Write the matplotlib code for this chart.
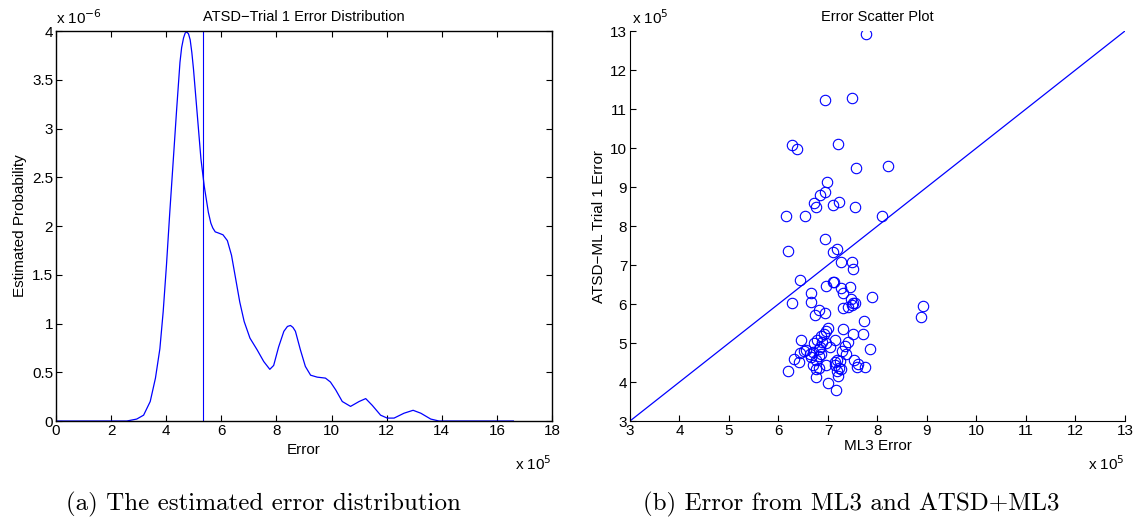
import matplotlib
matplotlib.use("Agg")
import matplotlib.pyplot as plt

plt.rcParams['font.family'] = ['Liberation Sans', 'DejaVu Sans']
plt.rcParams['font.size'] = 11

# density curve (x in 1e5, y in 1e-6)
dens_x = [0, 2.57, 2.93, 3.18, 3.42, 3.61, 3.77, 3.89, 4.01, 4.13, 4.26, 4.38,
          4.50, 4.56, 4.63, 4.69, 4.75, 4.81, 4.87, 4.93, 4.99, 5.14, 5.26,
          5.38, 5.53, 5.62, 5.69, 5.78, 5.88, 6.06, 6.22, 6.37, 6.52, 6.67,
          6.83, 7.04, 7.30, 7.54, 7.76, 7.90, 8.08, 8.27, 8.40, 8.51, 8.60,
          8.69, 8.87, 9.05, 9.24, 9.48, 9.78, 9.96, 10.15, 10.39, 10.69,
          11.00, 11.24, 11.48, 11.78, 12.02, 12.27, 12.63, 12.96, 13.24,
          13.60, 13.90, 16.6]
dens_y = [0, 0, 0.02, 0.06, 0.20, 0.44, 0.74, 1.12, 1.60, 2.14, 2.69, 3.20,
          3.68, 3.83, 3.93, 3.98, 3.99, 3.97, 3.91, 3.78, 3.61, 3.10, 2.69,
          2.41, 2.14, 2.03, 1.98, 1.94, 1.93, 1.91, 1.85, 1.70, 1.46, 1.22,
          1.02, 0.85, 0.73, 0.61, 0.53, 0.57, 0.76, 0.92, 0.97, 0.98, 0.96,
          0.92, 0.73, 0.56, 0.47, 0.45, 0.44, 0.40, 0.32, 0.20, 0.15,
          0.20, 0.23, 0.16, 0.06, 0.03, 0.03, 0.08, 0.11, 0.08,
          0.02, 0, 0]
mean_err = 5.33

# scatter (x 1e5)
ml3_err = [7.77, 6.94, 7.49, 6.27, 6.38, 7.20, 7.57, 8.22, 6.98, 6.94, 6.83,
           6.72, 6.75, 7.10, 7.23, 7.54, 6.16, 6.53, 8.10, 6.94, 6.19, 7.11,
           7.18, 7.27, 7.48, 7.51, 6.44, 7.10, 7.12, 6.96, 7.27, 7.44, 6.66,
           7.30, 7.46, 7.89, 6.27, 6.66, 7.50, 7.54, 7.49, 7.30, 7.41, 6.82,
           6.95, 6.74, 8.91, 8.87, 7.72, 7.01, 6.97, 7.31, 7.51, 7.71, 6.91,
           6.85, 6.45, 6.78, 7.14, 6.72, 6.88, 6.96, 7.40, 7.35, 6.84, 7.05,
           6.82, 6.55, 6.51, 7.85, 7.29, 6.69, 6.43, 6.63, 7.37, 6.85, 6.81,
           6.66, 6.32, 6.76, 7.18, 7.52, 6.42, 7.14, 7.24, 7.60, 6.70, 6.96,
           7.15, 7.58, 7.74, 6.81, 6.75, 7.22, 7.27, 6.19, 7.18, 6.75, 7.20,
           7.00, 7.16]
atsd_err = [12.93, 11.23, 11.28, 10.09, 9.97, 10.10, 9.49, 9.55, 9.12, 8.87,
            8.79, 8.60, 8.49, 8.54, 8.62, 8.48, 8.25, 8.25, 8.25, 7.67, 7.35,
            7.34, 7.41, 7.08, 7.07, 6.89, 6.62, 6.57, 6.56, 6.45, 6.42, 6.44,
            6.27, 6.27, 6.14, 6.19, 6.03, 6.05, 6.03, 6.03, 5.98, 5.89, 5.92,
            5.85, 5.78, 5.71, 5.95, 5.66, 5.56, 5.38, 5.32, 5.35, 5.23, 5.24,
            5.24, 5.18, 5.09, 5.07, 5.07, 5.00, 5.03, 5.00, 5.03, 4.92, 4.91,
            4.90, 4.85, 4.83, 4.79, 4.84, 4.79, 4.77, 4.74, 4.73, 4.73, 4.71,
            4.66, 4.64, 4.60, 4.57, 4.57, 4.57, 4.51, 4.52, 4.54, 4.47, 4.44,
            4.44, 4.44, 4.38, 4.38, 4.36, 4.33, 4.36, 4.33, 4.27, 4.28, 4.12,
            4.15, 3.97, 3.79]

blue = (0, 0, 1)

fig = plt.figure(figsize=(11.4, 5.23), dpi=100)
ax1 = fig.add_axes([0.0491, 0.195, 0.4351, 0.7457])
ax2 = fig.add_axes([0.5526, 0.195, 0.4342, 0.7457])

# (a) distribution
ax1.plot(dens_x, dens_y, color=blue, lw=0.9)
ax1.plot([mean_err, mean_err], [0, 4], color=blue, lw=0.8)
ax1.set_xlim(0, 18)
ax1.set_ylim(0, 4)
ax1.set_xticks(range(0, 19, 2))
ax1.set_yticks([0, 0.5, 1, 1.5, 2, 2.5, 3, 3.5, 4])
ax1.set_yticklabels(['0', '0.5', '1', '1.5', '2', '2.5', '3', '3.5', '4'])
ax1.tick_params(direction='in', top=True, right=True, length=4, width=0.8, pad=2)
for s in ax1.spines.values():
    s.set_linewidth(1.0)
ax1.set_title('ATSD\u2212Trial 1 Error Distribution', fontsize=10.5, pad=7)
ax1.set_xlabel('Error', labelpad=4)
ax1.set_ylabel('Estimated Probability', labelpad=4)
ax1.text(0, 1.01, 'x 10$^{-6}$', transform=ax1.transAxes, ha='left', va='bottom')
ax1.text(1, -0.085, 'x 10$^{5}$', transform=ax1.transAxes, ha='right', va='top')

# (b) scatter
ax2.plot([3, 13], [3, 13], color=blue, lw=0.9)
ax2.plot(ml3_err, atsd_err, 'o', mfc='none', mec=blue, ms=7.5, mew=0.8)
ax2.set_xlim(3, 13)
ax2.set_ylim(3, 13)
ax2.set_xticks(range(3, 14))
ax2.set_yticks(range(3, 14))
ax2.spines['top'].set_visible(False)
ax2.spines['right'].set_visible(False)
ax2.tick_params(direction='in', length=4, width=0.8, pad=2)
ax2.set_title('Error Scatter Plot', fontsize=10.5, pad=7)
ax2.set_xlabel('ML3 Error', labelpad=1)
ax2.set_ylabel('ATSD\u2212ML Trial 1 Error', labelpad=3)
ax2.text(0.005, 1.01, 'x 10$^{5}$', transform=ax2.transAxes, ha='left', va='bottom')
ax2.text(1, -0.085, 'x 10$^{5}$', transform=ax2.transAxes, ha='right', va='top')

# captions
fig.text(0.231, 0.012, '(a) The estimated error distribution', family='cmr10',
         fontsize=18, ha='center', va='bottom')
fig.text(0.747, 0.012, '(b) Error from ML3 and ATSD+ML3', family='cmr10',
         fontsize=18, ha='center', va='bottom')

fig.savefig('out.png', dpi=100)
